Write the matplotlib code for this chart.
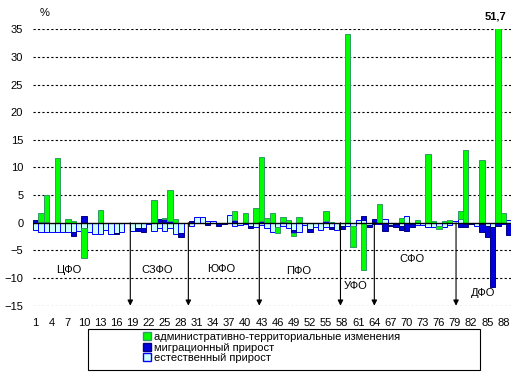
import numpy as np
import matplotlib
matplotlib.use("Agg")
import matplotlib.pyplot as plt
from matplotlib.patches import Rectangle, Patch

plt.rcParams['font.family'] = ['Liberation Sans', 'DejaVu Sans']

# Regions 1..89
regions = np.arange(1, 90)

# естественный прирост, %
natural = [-1.3, -1.7, -1.6, -1.6, -1.6, -1.7, -1.7, -1.6, -1.5, -1.0,
           -1.6, -2.0, -2.0, -1.3, -2.0, -1.9, -1.7, 0.0, -1.5, -1.0,
           -1.0, -0.2, -1.4, -1.0, -1.4, -1.0, -2.0, -1.9, 0.0, -0.5,
           1.0, 1.0, 0.3, 0.3, -0.1, 0.0, 1.4, -0.6, -0.4, -0.2,
           -0.6, -0.7, -0.4, -1.0, -1.6, -0.8, -0.6, -1.0, -1.3, -1.7,
           -0.4, -1.2, -0.7, -1.3, -0.8, -0.7, -1.3, -0.5, -0.5, -0.5,
           0.5, 0.5, -0.4, -0.2, -0.3, 0.6, -0.4, -0.3, -0.5, 1.2,
           -0.3, -0.4, -0.4, -0.8, -0.7, -0.6, -0.8, -0.4, 0.3, 0.6,
           -0.3, -0.1, -0.6, -0.3, -0.6, -0.8, 0.0, -0.3, 0.5]

# миграционный прирост, %
migration = [0.5, 0.1, 0.1, 0.0, 0.0, 0.0, 0.0, -0.8, 0.0, 1.2,
             0.0, 0.0, 0.0, 0.0, 0.0, -0.2, 0.0, 0.0, 0.0, -0.5,
             -0.7, 0.0, 0.0, 0.6, 0.7, 0.3, 0.0, -0.7, 0.0, 0.3,
             0.0, 0.0, -0.4, 0.0, -0.4, -0.25, 0.0, 0.5, 0.0, 0.0,
             -0.4, 0.0, 0.3, 0.0, 0.0, 0.0, 0.2, 0.0, -0.6, 0.0,
             0.0, -0.4, 0.0, 0.0, 0.4, -0.5, 0.0, -0.7, 0.0, 0.0,
             0.0, 0.7, -0.4, 0.6, 0.0, -1.4, -0.2, -0.5, -0.8, -1.5,
             -0.4, 0.0, 0.0, 0.0, 0.0, 0.0, 0.0, 0.0, 0.0, -0.8,
             -0.4, -0.2, 0.0, -1.3, -1.9, -10.8, -0.6, 0.0, -2.2]

# административно-территориальные изменения, %
admin = [0.0, 1.6, 4.9, 0.0, 11.7, 0.0, 0.6, 0.3, 0.0, -5.3,
         0.0, 0.0, 2.4, 0.0, 0.0, 0.0, 0.0, 0.0, 0.0, 0.0,
         0.0, 0.0, 4.2, 0.0, 0.1, 5.6, 0.6, 0.0, 0.0, 0.0,
         0.0, 0.0, 0.0, 0.0, 0.0, 0.0, 0.0, 1.6, 0.0, 1.8,
         0.0, 2.6, 11.6, 0.8, 1.7, -1.1, 0.8, 0.5, -0.5, 1.0,
         0.0, 0.0, 0.0, 0.0, 1.7, 0.2, 0.0, 0.0, 34.2, -3.8,
         0.0, -8.6, 0.0, 0.0, 3.4, 0.0, 0.0, 0.0, 0.8, 0.0,
         0.0, 0.5, 0.0, 12.4, 0.3, -0.6, 0.3, 0.5, 0.0, 1.5,
         13.1, 0.0, 0.0, 11.3, 0.0, 0.0, 51.7, 1.7, 0.0]

series_labels = ["административно-территориальные изменения",
                 "миграционный прирост",
                 "естественный прирост"]

# Federal districts
district_names = ["ЦФО", "СЗФО", "ЮФО", "ПФО", "УФО", "СФО", "ДФО"]
district_x = [7.1, 23.5, 35.5, 50.0, 60.5, 71.0, 84.3]
district_y = [-8.5, -8.5, -8.4, -8.7, -11.5, -6.6, -12.7]
boundaries = [18.6, 29.4, 42.6, 57.7, 64.0, 79.2]

# Styles (stack order: natural, migration, admin)
styles = [("#CCFFFF", "#0000FF"), ("#0000DD", "#000080"), ("#00FF00", "#339966")]

W, H = 527, 375
fig = plt.figure(figsize=(W / 100, H / 100), dpi=100)
ax = fig.add_axes([33 / W, 1 - 305.7 / H, (511.4 - 33) / W, (305.7 - 29.3) / H])

# Stacked columns, positives and negatives stacked separately
pos = np.zeros(len(regions))
neg = np.zeros(len(regions))
for vals, (fc, ec) in zip([natural, migration, admin], styles):
    v = np.array(vals)
    bottom = np.where(v >= 0, pos, neg)
    m = v != 0
    ax.bar(regions[m], v[m], bottom=bottom[m], width=1.0, color=fc,
           edgecolor=ec, linewidth=0.7, zorder=3)
    pos += np.clip(v, 0, None)
    neg += np.clip(v, None, 0)

ax.set_xlim(0.5, 89.5)
ax.set_ylim(-15, 35)

# Grid and zero line
for y in range(-15, 40, 5):
    if y != 0:
        ax.axhline(y, color="black", lw=0.8, ls=(0, (2, 2)), zorder=1)
ax.axhline(0, color="black", lw=1.0, zorder=4)

for s in ax.spines.values():
    s.set_visible(False)
ax.set_yticks(range(-15, 40, 5))
ax.set_xticks(regions[::3])
ax.set_xticklabels([str(r) for r in regions[::3]])
ax.tick_params(axis="y", length=0, labelsize=8, pad=7)
ax.tick_params(axis="x", length=0, labelsize=8, pad=9)

# District boundaries
for b in boundaries:
    ax.annotate("", xy=(b, -15), xytext=(b, 0),
                arrowprops=dict(arrowstyle="-|>", color="black", lw=0.8,
                                mutation_scale=8, shrinkA=0, shrinkB=0),
                zorder=5)
for name, x, y in zip(district_names, district_x, district_y):
    ax.text(x, y, name, ha="center", va="center", fontsize=8)

# Clipped bar value
ax.text(86.6, 37.25, "51,7", ha="center", va="center", fontsize=8,
        fontweight="bold", clip_on=False)
fig.text(45 / W, 1 - 13.3 / H, "%", ha="center", va="center", fontsize=8)

# Legend in a box
fig.patches.append(Rectangle((88 / W, 1 - 370 / H), (480 - 88) / W, (370 - 329) / H,
                             transform=fig.transFigure, fill=False,
                             edgecolor="black", lw=0.8))
handles = [Patch(facecolor=styles[2][0], edgecolor=styles[2][1]),
           Patch(facecolor=styles[1][0], edgecolor=styles[1][1]),
           Patch(facecolor=styles[0][0], edgecolor=styles[0][1])]
fig.legend(handles, series_labels, loc="upper left",
           bbox_to_anchor=(143 / W, 1 - 332 / H), frameon=False, fontsize=8,
           handlelength=0.7, handleheight=0.7, handletextpad=0.3,
           labelspacing=0.05, borderaxespad=0, borderpad=0)

fig.savefig("out.png", dpi=100)
